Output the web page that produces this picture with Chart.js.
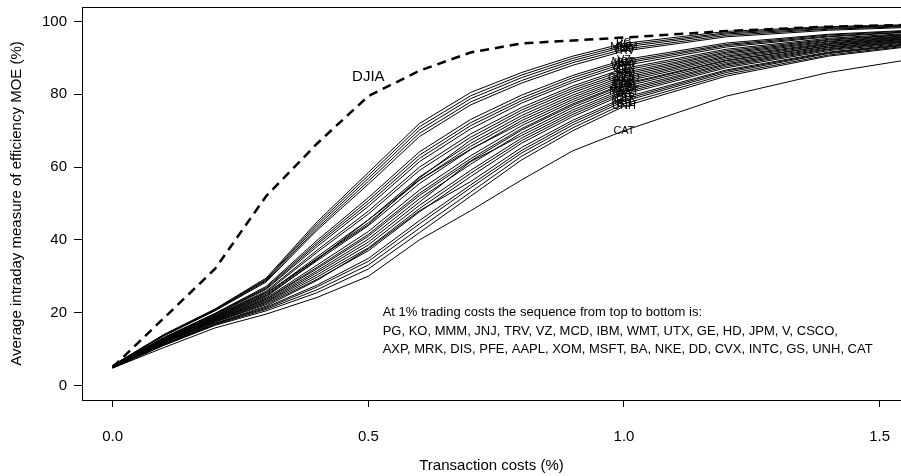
<!DOCTYPE html>
<html>
<head>
<meta charset="utf-8">
<script src="https://cdn.jsdelivr.net/npm/chart.js@4.4.1/dist/chart.umd.min.js"></script>
<style>
  html, body { margin: 0; padding: 0; background: #fff; overflow: hidden; }
</style>
</head>
<body>
<canvas id="moeChart" width="901" height="476"></canvas>
<script>
// transaction costs (%) at which the MOE was evaluated
const costs = [0, 0.1, 0.2, 0.3, 0.4, 0.5, 0.6, 0.7, 0.8, 0.9, 1.0, 1.2, 1.4, 1.6];

const djiaMoe = [5.0, 18.5, 32.0, 52.0, 66.5, 79.5, 86.5, 91.5, 94.0, 94.8, 95.6, 97.4, 98.6, 99.2];

// order = ranking at 1% costs, top to bottom
const stockNames = ['PG', 'KO', 'MMM', 'JNJ', 'TRV', 'VZ', 'MCD', 'IBM', 'WMT', 'UTX', 'GE', 'HD', 'JPM', 'V', 'CSCO',
    'AXP', 'MRK', 'DIS', 'PFE', 'AAPL', 'XOM', 'MSFT', 'BA', 'NKE', 'DD', 'CVX', 'INTC', 'GS', 'UNH', 'CAT'];

const stockMoe = [
    [5.5, 14.0, 21.0, 29.5, 45.0, 58.5, 72.0, 80.5, 86.0, 90.5, 94.0, 97.3, 98.6, 99.3], // PG
    [5.5, 13.9, 20.9, 29.2, 44.4, 57.7, 71.1, 79.6, 85.3, 89.9, 93.5, 96.9, 98.4, 99.1], // KO
    [5.5, 13.8, 20.7, 29.0, 43.8, 56.9, 70.2, 78.8, 84.6, 89.3, 93.0, 96.6, 98.1, 99.0], // MMM
    [5.4, 13.7, 20.6, 28.7, 43.2, 56.1, 69.3, 77.9, 83.8, 88.7, 92.4, 96.2, 97.9, 98.8], // JNJ
    [5.4, 13.6, 20.5, 28.4, 42.7, 55.3, 68.4, 77.1, 83.1, 88.0, 91.9, 95.8, 97.6, 98.6], // TRV
    [5.3, 13.2, 19.8, 27.2, 39.9, 51.6, 64.2, 73.1, 79.8, 85.2, 89.5, 94.1, 96.5, 97.9], // VZ
    [5.3, 13.1, 19.7, 26.9, 39.3, 50.8, 63.3, 72.2, 79.0, 84.6, 89.0, 93.7, 96.3, 97.7], // MCD
    [5.3, 13.0, 19.6, 26.6, 38.8, 50.0, 62.4, 71.4, 78.3, 83.9, 88.5, 93.4, 96.0, 97.5], // IBM
    [5.3, 13.0, 19.4, 26.4, 38.2, 49.2, 61.5, 70.5, 77.6, 83.3, 87.9, 93.0, 95.8, 97.4], // WMT
    [5.2, 12.8, 19.2, 25.9, 37.2, 47.9, 60.0, 69.1, 76.4, 82.3, 87.1, 92.4, 95.4, 97.1], // UTX
    [5.2, 12.7, 19.1, 25.6, 36.6, 47.1, 59.1, 68.2, 75.7, 81.7, 86.6, 92.0, 95.1, 96.9], // GE
    [5.2, 12.6, 18.9, 25.4, 34.8, 44.2, 57.0, 67.4, 75.0, 81.1, 86.0, 91.6, 94.9, 96.8], // HD
    [5.2, 12.5, 18.8, 25.1, 35.4, 45.5, 57.3, 66.5, 74.2, 80.5, 85.5, 91.3, 94.6, 96.6], // JPM
    [5.1, 12.4, 18.7, 24.8, 34.9, 44.7, 56.4, 65.7, 73.5, 79.8, 85.0, 90.9, 94.4, 96.4], // V
    [5.1, 12.4, 18.5, 24.6, 34.3, 43.9, 55.5, 64.8, 72.8, 79.2, 84.5, 90.5, 94.1, 96.3], // CSCO
    [5.1, 12.3, 18.4, 24.3, 34.6, 45.5, 56.5, 64.9, 72.1, 78.6, 84.0, 90.2, 93.9, 96.1], // AXP
    [5.1, 12.2, 18.3, 24.0, 33.1, 42.3, 53.7, 63.1, 71.4, 78.0, 83.5, 89.8, 93.7, 95.9], // MRK
    [5.1, 12.1, 18.1, 23.7, 32.5, 41.5, 52.8, 62.3, 70.6, 77.4, 82.9, 89.4, 93.4, 95.8], // DIS
    [5.0, 12.0, 18.0, 23.6, 32.1, 41.0, 52.2, 61.7, 70.2, 77.0, 82.6, 89.2, 93.3, 95.7], // PFE
    [5.0, 11.9, 17.9, 23.3, 31.5, 40.2, 51.3, 60.8, 69.4, 76.4, 82.1, 88.8, 93.0, 95.5], // AAPL
    [5.0, 11.8, 17.8, 23.0, 31.0, 39.4, 50.4, 61.5, 68.7, 75.7, 81.5, 88.4, 92.8, 95.3], // XOM
    [5.0, 11.8, 17.6, 22.8, 30.4, 38.6, 49.5, 59.1, 68.0, 75.1, 81.0, 88.1, 92.5, 95.2], // MSFT
    [5.0, 11.7, 17.5, 22.5, 29.8, 37.8, 48.6, 58.3, 67.3, 74.5, 80.5, 87.7, 92.3, 95.0], // BA
    [4.9, 11.6, 17.4, 22.2, 29.2, 37.0, 47.7, 57.4, 66.6, 73.9, 80.0, 87.3, 92.0, 94.8], // NKE
    [4.9, 11.4, 17.1, 21.8, 28.9, 37.5, 48.0, 56.0, 65.4, 72.9, 79.1, 86.7, 91.6, 94.6], // DD
    [4.9, 11.3, 17.0, 21.5, 27.6, 34.9, 45.3, 55.1, 64.6, 72.3, 78.6, 86.4, 91.4, 94.4], // CVX
    [4.9, 11.2, 16.9, 21.2, 27.1, 34.1, 44.4, 54.3, 63.9, 71.6, 78.1, 86.0, 91.2, 94.2], // INTC
    [4.8, 11.1, 16.7, 20.9, 26.3, 33.1, 43.2, 53.1, 63.0, 70.8, 77.4, 85.5, 90.8, 94.0], // GS
    [4.8, 11.0, 16.5, 20.5, 25.5, 32.0, 42.0, 52.0, 62.0, 70.0, 76.7, 85.0, 90.5, 93.8], // UNH
    [4.8, 10.4, 15.8, 19.6, 24.2, 30.0, 40.0, 48.0, 56.5, 64.5, 70.0, 79.5, 86.0, 90.5]  // CAT
];

const xTicks = [0, 0.5, 1.0, 1.5];
const yTicks = [0, 20, 40, 60, 80, 100];

const labelCost = 1.0;      // names are written at 1% costs
const djiaLabelCost = 0.5;
const noteLines = [
    'At 1% trading costs the sequence from top to bottom is:',
    stockNames.slice(0, 15).join(', ') + ',',
    stockNames.slice(15).join(', ')
];
const noteAnchor = { x: 0.528, y: 20 };

const FONT = "'Liberation Sans', Arial, sans-serif";

const datasets = stockNames.map((name, i) => ({
    label: name,
    data: costs.map((c, j) => ({ x: c, y: stockMoe[i][j] })),
    borderColor: '#000',
    borderWidth: 1,
    pointRadius: 0,
    fill: false
}));
datasets.unshift({
    label: 'DJIA',
    data: costs.map((c, j) => ({ x: c, y: djiaMoe[j] })),
    borderColor: '#000',
    borderWidth: 2.5,
    borderDash: [9, 6],
    pointRadius: 0,
    fill: false
});

const textPlugin = {
    id: 'rText',
    afterDatasetsDraw(chart) {
        const { ctx, chartArea } = chart;
        const xs = chart.scales.x, ys = chart.scales.y;
        ctx.save();
        // box round the plot region (right edge lies outside the picture)
        ctx.strokeStyle = '#000';
        ctx.lineWidth = 1;
        ctx.strokeRect(chartArea.left + 0.5, chartArea.top + 0.5, chartArea.width + 20, chartArea.bottom - chartArea.top);

        ctx.fillStyle = '#000';
        ctx.textAlign = 'center';
        ctx.textBaseline = 'middle';

        const k = costs.indexOf(labelCost);
        ctx.font = '11px ' + FONT;
        stockNames.forEach((name, i) => {
            ctx.fillText(name, xs.getPixelForValue(labelCost), ys.getPixelForValue(stockMoe[i][k]));
        });

        const d = costs.indexOf(djiaLabelCost);
        ctx.font = '15px ' + FONT;
        ctx.fillText('DJIA', xs.getPixelForValue(djiaLabelCost), ys.getPixelForValue(djiaMoe[d]) - 19);

        ctx.font = '13px ' + FONT;
        ctx.textAlign = 'left';
        const nx = xs.getPixelForValue(noteAnchor.x);
        const ny = ys.getPixelForValue(noteAnchor.y);
        noteLines.forEach((line, i) => ctx.fillText(line, nx, ny + i * 18.5));
        ctx.restore();
    }
};

new Chart(document.getElementById('moeChart'), {
    type: 'line',
    data: { datasets },
    options: {
        responsive: false,
        devicePixelRatio: 1,
        animation: false,
        layout: { padding: { top: 7, right: 0, left: 0, bottom: 0 } },
        plugins: { legend: { display: false }, tooltip: { enabled: false } },
        elements: { line: { tension: 0 } },
        scales: {
            x: {
                type: 'linear',
                min: -0.06,
                max: 1.5418,
                afterFit: s => { s.height = 76; s.paddingLeft = 0; s.paddingRight = 0; },
                afterBuildTicks: s => { s.ticks = xTicks.map(v => ({ value: v })); },
                border: { display: false },
                grid: { drawOnChartArea: false, drawTicks: true, tickLength: 7, tickColor: '#000', tickWidth: 1 },
                ticks: {
                    color: '#000', font: { family: FONT, size: 15 }, padding: 21, maxRotation: 0,
                    callback: v => v.toFixed(1)
                },
                title: { display: true, text: 'Transaction costs (%)', color: '#000', font: { family: FONT, size: 15 }, padding: 1 }
            },
            y: {
                min: -4,
                max: 104,
                afterFit: s => { s.width = 82; s.paddingTop = 0; s.paddingBottom = 0; },
                afterBuildTicks: s => { s.ticks = yTicks.map(v => ({ value: v })); },
                border: { display: false },
                grid: { drawOnChartArea: false, drawTicks: true, tickLength: 8, tickColor: '#000', tickWidth: 1 },
                ticks: { color: '#000', font: { family: FONT, size: 15 }, padding: 7 },
                title: { display: true, text: 'Average intraday measure of efficiency MOE (%)', color: '#000', font: { family: FONT, size: 15 }, padding: 8 }
            }
        }
    },
    plugins: [textPlugin]
});
</script>
</body>
</html>
